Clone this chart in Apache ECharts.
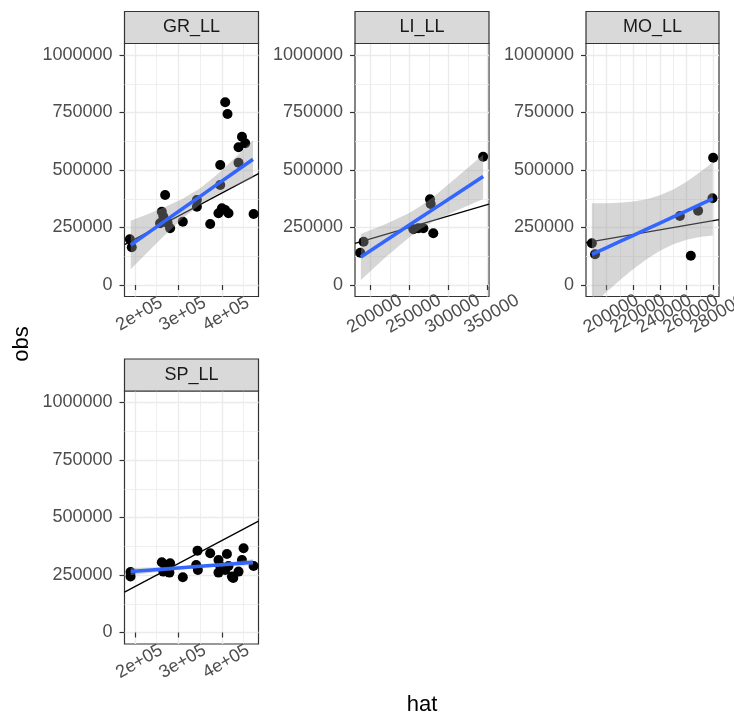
<!DOCTYPE html>
<html><head><meta charset="utf-8">
<script src="https://cdn.jsdelivr.net/npm/echarts@6/dist/echarts.min.js"></script>
<style>html,body{margin:0;padding:0;background:#fff}#chart{width:734px;height:717px}</style>
</head><body><div id="chart"></div>
<script>
// ---------- data ----------
const panelNames = ['GR_LL', 'LI_LL', 'MO_LL', 'SP_LL'];

const grHat = [188000, 192400, 269300, 261700, 265300, 257700, 280800, 275000, 310100, 342500, 342500, 373200, 396300, 396300, 407800, 413100, 446400, 454000, 438500, 438500, 400200, 392300, 415400, 473200, 407800];
const grObs = [198700, 163900, 391300, 318700, 297000, 268300, 246500, 270000, 275200, 369600, 340400, 265200, 434800, 521800, 794400, 743500, 644800, 616100, 598700, 531800, 333500, 311700, 311700, 308700, 326100];

const liHat = [344500, 276500, 277400, 255200, 261600, 268000, 280700, 191500, 187200];
const liObs = [557900, 372600, 352200, 242200, 246500, 246500, 224800, 188300, 140400];

const moHat = [188800, 191200, 255000, 268700, 279500, 280000, 263200];
const moObs = [181300, 133500, 300000, 323100, 377000, 553500, 127400];

const spHat = [189600, 189600, 261700, 273200, 280800, 265300, 279200, 310100, 343900, 340900, 344800, 373200, 392300, 411700, 396300, 392300, 415400, 423300, 438500, 450100, 446400, 473200, 407800, 426300];
const spObs = [263400, 243900, 305500, 293800, 301200, 264700, 260400, 240400, 355900, 293800, 272100, 344600, 315500, 341600, 289500, 260400, 289500, 243000, 264700, 366300, 315500, 289500, 272100, 237400];

// fitted lm line with 95% band
const grFitHat = [190000, 230000, 270000, 310000, 350000, 390000, 430000, 471800];
const grFit    = [173900, 226800, 279700, 332600, 385400, 438300, 491200, 546500];
const grLow    = [68900, 144700, 219100, 289700, 350400, 395400, 430600, 463400];
const grHigh   = [278900, 308900, 340300, 375500, 420400, 481200, 551800, 629600];

const liFitHat = [188000, 220000, 250000, 265000, 280000, 310000, 344500];
const liFit    = [122000, 193600, 260600, 294200, 327700, 394800, 472000];
const liLow    = [22000, 122000, 207800, 244200, 274900, 323200, 374000];
const liHigh   = [222000, 265200, 313400, 344200, 380500, 466400, 566000];

const moFitHat = [188800, 200000, 210000, 220000, 230000, 240000, 250000, 260000, 270000, 279700];
const moFit    = [133000, 162800, 189400, 216100, 242700, 269300, 295900, 322500, 349100, 375000];
const moLow    = [-89000, -29400, 21600, 69500, 112500, 148900, 176900, 196300, 208300, 215000];
const moHigh   = [355000, 355000, 357200, 362700, 372900, 389700, 414900, 448700, 489900, 533000];

const spFitHat = [190000, 270000, 350000, 430000, 471800];
const spFit    = [264700, 276300, 287800, 299400, 305500];
const spLow    = [248700, 267300, 281800, 290400, 292500];
const spHigh   = [280700, 285300, 293800, 308400, 318500];

// axis limits and ticks
const yLimits = [-50000, 1050000];
const yTicks = [0, 250000, 500000, 750000, 1000000];
const yMinor = [125000, 375000, 625000, 875000];

const grXLimits = [175700, 484500];
const liXLimits = [180500, 352000];
const moXLimits = [184400, 284400];
const spXLimits = [175700, 484500];

const grXTicks = [200000, 300000, 400000];
const grXTickLabels = ['2e+05', '3e+05', '4e+05'];
const grXMinor = [250000, 350000, 450000];
const liXTicks = [200000, 250000, 300000, 350000];
const liXTickLabels = ['200000', '250000', '300000', '350000'];
const liXMinor = [225000, 275000, 325000];
const moXTicks = [200000, 220000, 240000, 260000, 280000];
const moXTickLabels = ['200000', '220000', '240000', '260000', '280000'];
const moXMinor = [190000, 210000, 230000, 250000, 270000];
const spXTicks = grXTicks, spXTickLabels = grXTickLabels, spXMinor = grXMinor;

// ---------- layout ----------
const boxes = [
  {left: 124.5, top: 43.5, width: 134, height: 253},
  {left: 355, top: 43.5, width: 134, height: 253},
  {left: 586, top: 43.5, width: 133, height: 253},
  {left: 124.5, top: 391, width: 134, height: 253}
];
const panelData = [
  {hat: grHat, obs: grObs, fx: grFitHat, fy: grFit, lo: grLow, hi: grHigh, xl: grXLimits, xt: grXTicks, xtl: grXTickLabels, xm: grXMinor},
  {hat: liHat, obs: liObs, fx: liFitHat, fy: liFit, lo: liLow, hi: liHigh, xl: liXLimits, xt: liXTicks, xtl: liXTickLabels, xm: liXMinor},
  {hat: moHat, obs: moObs, fx: moFitHat, fy: moFit, lo: moLow, hi: moHigh, xl: moXLimits, xt: moXTicks, xtl: moXTickLabels, xm: moXMinor},
  {hat: spHat, obs: spObs, fx: spFitHat, fy: spFit, lo: spLow, hi: spHigh, xl: spXLimits, xt: spXTicks, xtl: spXTickLabels, xm: spXMinor}
];

const FONT = '"Liberation Sans", Arial, Helvetica, sans-serif';
const TICK_FS = 18;
const grids = [], xAxes = [], yAxes = [], series = [], graphics = [];

function xLabelStyle(p, values) {
  return {show: true, customValues: values, rotate: 30, align: 'center', verticalAlign: 'middle', margin: 20,
    padding: [0, 0, 0, 10], interval: 0, showMinLabel: true, showMaxLabel: true, hideOverlap: false,
    color: '#4d4d4d', fontSize: TICK_FS, fontFamily: FONT,
    formatter: v => { const k = p.xt.indexOf(v); return k >= 0 ? p.xtl[k] : ''; }};
}

panelData.forEach((p, i) => {
  const b = boxes[i];
  grids.push({left: b.left, top: b.top, width: b.width, height: b.height, show: true,
    outerBoundsMode: 'none', containLabel: false,
    backgroundColor: '#ffffff', borderColor: '#333333', borderWidth: 1.2, z: 0});
  const evenTicks = p.xt.filter((v, k) => k % 2 === 0);
  const oddTicks = p.xt.filter((v, k) => k % 2 === 1);
  // major x (ticks, major grid, even labels)
  xAxes.push({type: 'value', gridIndex: i, min: p.xl[0], max: p.xl[1], position: 'bottom',
    axisLine: {show: false},
    axisTick: {show: true, customValues: p.xt, length: 5, lineStyle: {color: '#333333', width: 1.2}},
    axisLabel: xLabelStyle(p, evenTicks),
    splitLine: {show: true, lineStyle: {color: '#ebebeb', width: 1.4}}});
  // minor x grid
  xAxes.push({type: 'value', gridIndex: i, min: p.xl[0], max: p.xl[1], position: 'top',
    axisLine: {show: false}, axisTick: {show: false, customValues: p.xm}, axisLabel: {show: false, customValues: p.xm},
    splitLine: {show: true, lineStyle: {color: '#ebebeb', width: 0.8}}});
  // odd labels (separate axis so overlapping labels stay visible)
  xAxes.push({type: 'value', gridIndex: i, min: p.xl[0], max: p.xl[1], position: 'bottom', offset: 0,
    axisLine: {show: false}, axisTick: {show: false, customValues: oddTicks.length ? oddTicks : [p.xl[0] - 1]},
    axisLabel: xLabelStyle(p, oddTicks.length ? oddTicks : [p.xl[0] - 1]),
    splitLine: {show: false}});
  // major y
  yAxes.push({type: 'value', gridIndex: i, min: yLimits[0], max: yLimits[1], position: 'left',
    axisLine: {show: false},
    axisTick: {show: true, customValues: yTicks, length: 5, lineStyle: {color: '#333333', width: 1.2}},
    axisLabel: {show: true, customValues: yTicks, margin: 12, color: '#4d4d4d', fontSize: TICK_FS, fontFamily: FONT,
      showMinLabel: true, showMaxLabel: true, formatter: v => String(v)},
    splitLine: {show: true, lineStyle: {color: '#ebebeb', width: 1.4}}});
  // minor y
  yAxes.push({type: 'value', gridIndex: i, min: yLimits[0], max: yLimits[1], position: 'right',
    axisLine: {show: false}, axisTick: {show: false, customValues: yMinor}, axisLabel: {show: false, customValues: yMinor},
    splitLine: {show: true, lineStyle: {color: '#ebebeb', width: 0.8}}});

  const xi = i * 3, yi = i * 2;
  // points
  series.push({type: 'scatter', xAxisIndex: xi, yAxisIndex: yi, z: 2, symbolSize: 10,
    itemStyle: {color: '#000000', opacity: 1}, data: p.hat.map((h, k) => [h, p.obs[k]]), silent: true});
  // identity line
  series.push({type: 'line', xAxisIndex: xi, yAxisIndex: yi, z: 3, showSymbol: false, clip: true,
    lineStyle: {color: '#000000', width: 1.3}, data: [[p.xl[0], p.xl[0]], [p.xl[1], p.xl[1]]], silent: true});
  // confidence band
  series.push({type: 'custom', xAxisIndex: xi, yAxisIndex: yi, z: 4, clip: true, silent: true,
    data: p.fx.map((x, k) => [x, p.lo[k], p.hi[k]]),
    encode: {x: 0, y: [1, 2]},
    renderItem: (params, api) => {
      if (params.dataIndex !== 0) return null;
      const pts = [];
      for (let k = 0; k < p.fx.length; k++) pts.push(api.coord([p.fx[k], p.lo[k]]));
      for (let k = p.fx.length - 1; k >= 0; k--) pts.push(api.coord([p.fx[k], p.hi[k]]));
      return {type: 'polygon', shape: {points: pts}, style: {fill: 'rgba(153,153,153,0.4)'}};
    }});
  // fit line
  series.push({type: 'line', xAxisIndex: xi, yAxisIndex: yi, z: 5, showSymbol: false, clip: true,
    lineStyle: {color: '#3366FF', width: 3.5}, data: p.fx.map((x, k) => [x, p.fy[k]]), silent: true});

  // strip
  graphics.push({type: 'rect', shape: {x: b.left, y: b.top - 32, width: b.width, height: 32},
    style: {fill: '#d9d9d9', stroke: '#333333', lineWidth: 1.2}, z: 10});
  graphics.push({type: 'text', x: b.left + b.width / 2, y: b.top - 16, z: 11,
    style: {text: panelNames[i], fill: '#1a1a1a', font: TICK_FS + 'px ' + FONT, textAlign: 'center', textVerticalAlign: 'middle'}});
});

graphics.push({type: 'text', x: 422, y: 705, style: {text: 'hat', fill: '#000000', font: '22px ' + FONT, textAlign: 'center', textVerticalAlign: 'middle'}});
graphics.push({type: 'text', x: 22, y: 344, rotation: Math.PI / 2, style: {text: 'obs', fill: '#000000', font: '22px ' + FONT, textAlign: 'center', textVerticalAlign: 'middle'}});

const chart = echarts.init(document.getElementById('chart'), null, {renderer: 'canvas'});
chart.setOption({
  animation: false,
  backgroundColor: '#ffffff',
  grid: grids, xAxis: xAxes, yAxis: yAxes, series: series,
  graphic: {elements: graphics}
});
</script></body></html>
